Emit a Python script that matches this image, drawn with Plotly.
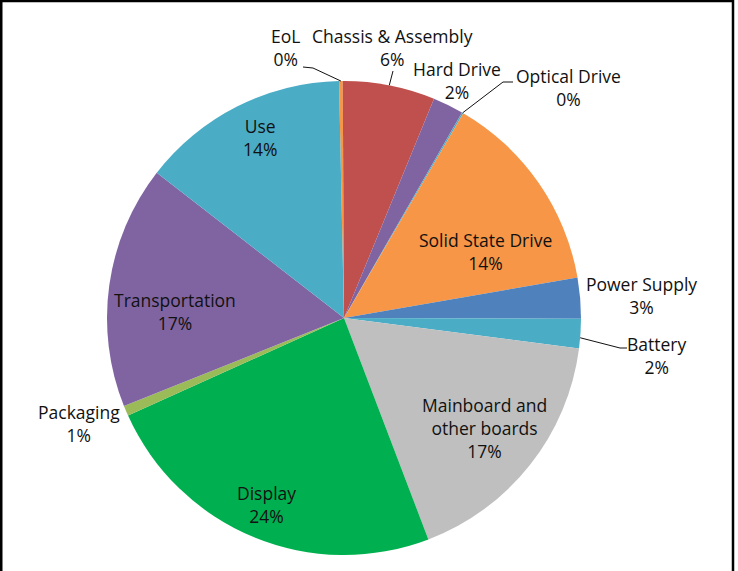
import math
import plotly.graph_objects as go

# ---- data ----
categories = ["EoL", "Chassis & Assembly", "Hard Drive", "Optical Drive",
              "Solid State Drive", "Power Supply", "Battery",
              "Mainboard and<br>other boards", "Display", "Packaging",
              "Transportation", "Use"]
values = [0.25, 6.3, 2.1, 0.1, 13.9, 2.8, 2.0, 17.2, 24.1, 0.7, 16.6, 14.2]
colors = ["#F79646", "#C0504D", "#8064A2", "#4BACC6", "#F79646", "#4F81BD",
          "#4BACC6", "#BFBFBF", "#00B050", "#9BBB59", "#8064A2", "#4BACC6"]

# ---- layout geometry (pixels) ----
W, H = 738, 571
CX, CY, R = 344, 318, 237
ROT = -1.2

# label centre positions in pixels (layout, not data)
label_pos = {
    "EoL": (285, 47),
    "Chassis & Assembly": (393, 47),
    "Hard Drive": (457, 80),
    "Optical Drive": (568, 88),
    "Solid State Drive": (485, 251),
    "Power Supply": (641, 295),
    "Battery": (656, 355),
    "Mainboard and<br>other boards": (484, 428),
    "Display": (266, 504),
    "Packaging": (79, 424),
    "Transportation": (175, 312),
    "Use": (260, 137),
}

def px(x):
    return x / W

def py(y):
    return 1 - y / H

total = sum(values)
mid_angles = {}
acc = 0.0
for c, v in zip(categories, values):
    mid_angles[c] = ROT + (acc + v / 2) / total * 360
    acc += v

def edge(cat, k=1.0, da=0.0):
    a = math.radians(mid_angles[cat] + da)
    return CX + k * R * math.sin(a), CY - k * R * math.cos(a)

fig = go.Figure(go.Pie(
    labels=categories,
    values=values,
    sort=False,
    direction="clockwise",
    rotation=ROT,
    marker=dict(colors=colors, line=dict(width=0)),
    textinfo="none",
    hoverinfo="label+percent",
    showlegend=False,
    domain=dict(x=[px(CX - R), px(CX + R)], y=[py(CY + R), py(CY - R)]),
))

FONT = dict(family="Open Sans, Noto Sans, sans-serif", size=17.5, color="#111111")
annotations = []
for c, v in zip(categories, values):
    x, y = label_pos[c]
    pct = round(v / total * 100)
    annotations.append(dict(
        x=px(x), y=py(y), xref="paper", yref="paper",
        text=f"{c}<br>{pct}%", showarrow=False, font=FONT,
        xanchor="center", yanchor="middle", align="center",
    ))

def path(points):
    return "M " + " L ".join(f"{px(a)},{py(b)}" for a, b in points)

leaders = [
    [(303, 67), (313, 68), edge("EoL")],
    [(393, 71), edge("Chassis & Assembly")],
    [(513, 82), (503, 82), edge("Optical Drive")],
    [edge("Battery", da=1.0), (620, 348), (627, 348)],
]
shapes = [dict(type="path", xref="paper", yref="paper", path=path(p),
               line=dict(color="#111111", width=1)) for p in leaders]

# frame (left, top, right)
shapes += [
    dict(type="line", xref="paper", yref="paper", x0=px(1), x1=px(1), y0=0, y1=py(0),
         line=dict(color="black", width=3)),
    dict(type="line", xref="paper", yref="paper", x0=0, x1=px(734), y0=py(1), y1=py(1),
         line=dict(color="black", width=2.5)),
    dict(type="line", xref="paper", yref="paper", x0=px(733), x1=px(733), y0=0, y1=py(0),
         line=dict(color="black", width=2.5)),
]

fig.update_layout(
    width=W, height=H,
    margin=dict(l=0, r=0, t=0, b=0),
    paper_bgcolor="white", plot_bgcolor="white",
    annotations=annotations, shapes=shapes,
)

fig.write_html("out.html",
               config={"displayModeBar": False},
               post_script="document.body.style.margin='0';document.body.style.overflow='hidden';")
